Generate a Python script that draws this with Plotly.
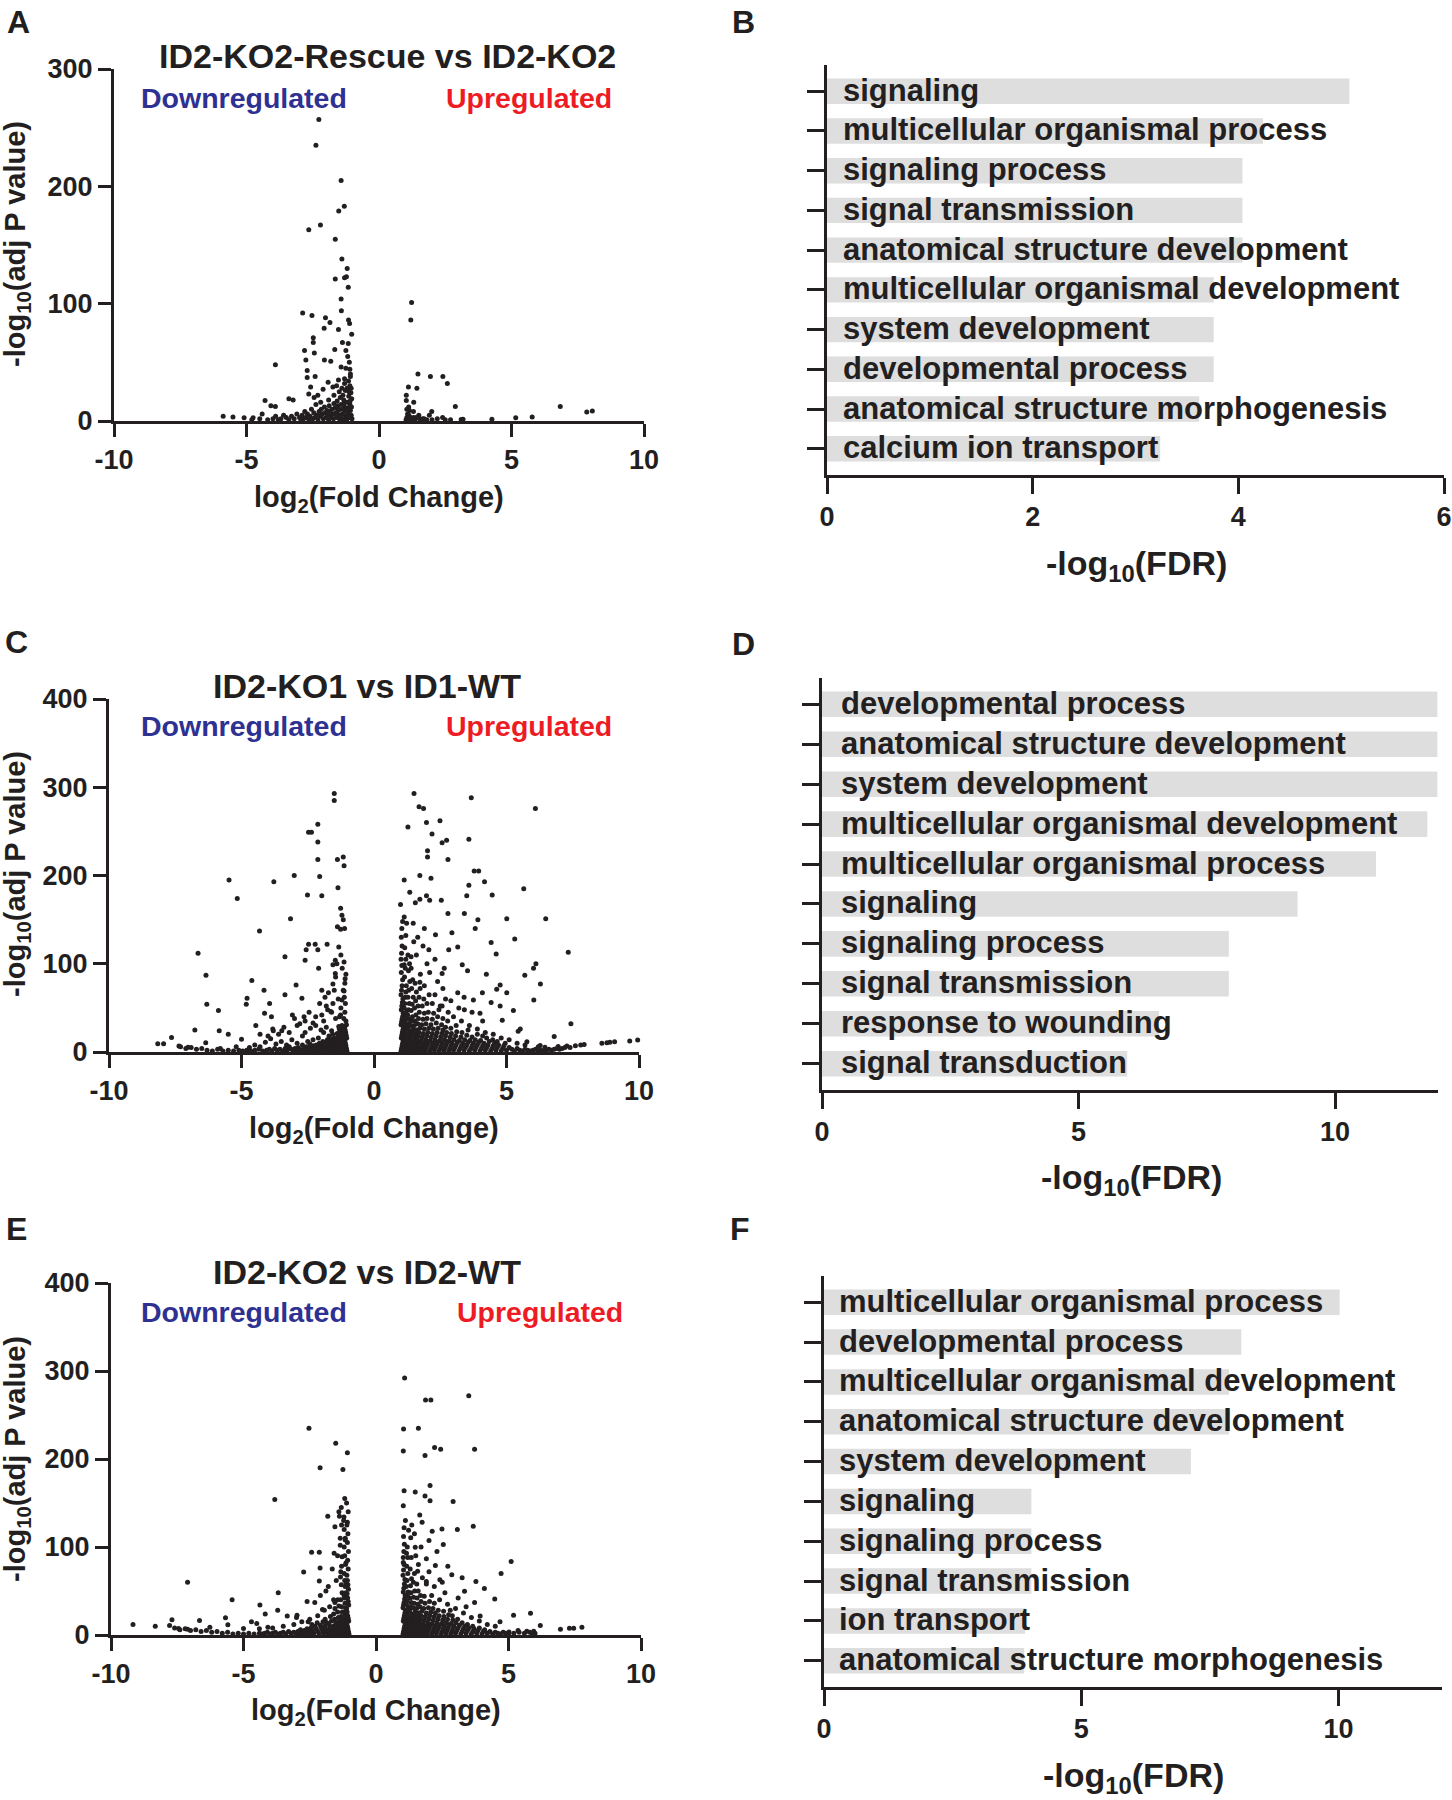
import plotly.graph_objects as go

# ---------------- DATA ----------------
# Panel A: ID2-KO2-Rescue vs ID2-KO2 (log2FC, -log10 adj P)
volcano_a_down = [
    (-2.27, 257), (-2.38, 235), (-1.43, 205), (-1.31, 183), (-1.52, 179), (-2.21, 167), (-2.65, 163),
    (-1.65, 155), (-1.40, 138), (-1.20, 130), (-1.65, 121), (-1.30, 122), (-1.23, 123), (-1.16, 114),
    (-1.43, 104), (-1.42, 94), (-2.88, 92), (-2.53, 90), (-2.02, 88), (-1.85, 84), (-1.15, 86),
    (-1.11, 83), (-2.07, 79), (-1.53, 78), (-1.03, 74), (-2.48, 71), (-2.48, 67), (-1.38, 67),
    (-1.16, 66), (-2.81, 60), (-1.67, 61), (-2.44, 58), (-1.25, 60), (-2.76, 52), (-2.06, 52),
    (-1.82, 51), (-3.91, 48), (-2.71, 43), (-1.43, 46), (-1.10, 44), (-2.71, 37), (-2.41, 38),
    (-1.92, 33), (-1.53, 35), (-1.30, 36), (-1.08, 40), (-2.58, 29), (-2.11, 27), (-1.74, 29),
    (-1.21, 28), (-2.65, 23), (-2.31, 22), (-4.30, 17.5), (-3.40, 19), (-3.24, 18), (-3.91, 12.4),
    (-4.08, 13), (-4.41, 6), (-5.88, 4), (-5.51, 3.4), (-5.09, 2.8), (-4.75, 2.8),
    (-1.02, 2), (-1.05, 5), (-1.08, 9), (-1.10, 14), (-1.03, 19), (-1.06, 24), (-1.12, 3), (-1.15, 7),
    (-1.18, 11), (-1.20, 16), (-1.14, 21), (-1.22, 1), (-1.25, 4), (-1.28, 8), (-1.30, 12), (-1.33, 18),
    (-1.27, 26), (-1.35, 2), (-1.38, 6), (-1.40, 10), (-1.43, 14), (-1.46, 20), (-1.48, 1), (-1.50, 5),
    (-1.53, 9), (-1.56, 13), (-1.58, 17), (-1.60, 3), (-1.63, 7), (-1.66, 11), (-1.70, 15), (-1.72, 2),
    (-1.75, 6), (-1.78, 10), (-1.82, 4), (-1.85, 8), (-1.88, 13), (-1.90, 1), (-1.93, 5), (-1.96, 9),
    (-2.00, 3), (-2.03, 7), (-2.06, 12), (-2.10, 2), (-2.14, 6), (-2.18, 10), (-2.22, 4), (-2.26, 8),
    (-2.30, 1), (-2.34, 5), (-2.38, 14), (-2.42, 3), (-2.46, 7), (-2.50, 2), (-2.55, 10), (-2.60, 4),
    (-2.65, 1), (-2.70, 6), (-2.75, 3), (-2.80, 8), (-2.85, 2), (-2.90, 5), (-2.95, 1), (-3.00, 3),
    (-3.10, 6), (-3.20, 2), (-3.30, 4), (-3.40, 1), (-3.50, 3), (-3.60, 5), (-3.70, 2), (-3.80, 1),
    (-3.90, 4), (-4.00, 2), (-4.20, 1), (-4.50, 2), (-4.80, 1), (-1.10, 30), (-1.15, 34), (-1.30, 32),
    (-1.50, 25), (-1.70, 22), (-1.90, 18), (-2.20, 16), (-2.45, 20), (-1.05, 28), (-1.08, 38),
    (-1.25, 45), (-1.40, 28), (-1.60, 30), (-1.12, 50), (-1.18, 55), (-1.04, 12), (-1.09, 17),
    (-1.13, 25), (-1.19, 4), (-1.24, 9), (-1.32, 15), (-1.36, 22), (-1.45, 3), (-1.55, 11), (-1.68, 6),
]
volcano_a_up = [
    (1.23, 101), (1.20, 86), (1.47, 40), (1.94, 38), (2.41, 38), (2.58, 32), (1.43, 28), (1.11, 29),
    (1.03, 22), (1.03, 17.5), (1.31, 16), (2.88, 12.4), (6.84, 12.4), (7.84, 7.6), (8.05, 8.5),
    (5.78, 3.4), (5.16, 2.8), (4.26, 1.4), (1.99, 8), (1.90, 5), (2.40, 3), (3.17, 1.4), (3.10, 1.2),
    (1.10, 6), (1.15, 9), (1.30, 3), (1.50, 2.5), (1.65, 2), (1.02, 1), (1.05, 3), (1.08, 6), (1.10, 2),
    (1.15, 4), (1.20, 1), (1.25, 2), (1.35, 1), (1.40, 3), (1.55, 1), (1.70, 2), (1.80, 1), (2.00, 1),
    (2.20, 2), (2.50, 1), (2.70, 1), (1.05, 10), (1.12, 12), (1.30, 8), (1.50, 5),
]

# Panel C: ID2-KO1 vs ID1-WT
volcano_c_down = [
    (-1.50, 293), (-1.50, 285), (-2.12, 258), (-2.47, 249), (-2.36, 249), (-2.12, 238), (-2.12, 218),
    (-2.05, 199), (-1.38, 218), (-1.16, 221), (-1.13, 211), (-3.01, 200), (-3.78, 193), (-5.47, 195),
    (-5.16, 174), (-2.51, 178), (-1.97, 177), (-1.36, 186), (-1.26, 163), (-1.21, 155), (-1.16, 150),
    (-1.38, 142), (-1.26, 139), (-1.11, 140), (-3.15, 151), (-4.32, 137), (-2.47, 122), (-2.22, 122),
    (-1.77, 122), (-1.33, 119), (-2.56, 116), (-2.12, 116), (-6.64, 112), (-3.36, 108), (-2.60, 104),
    (-1.46, 104), (-1.13, 102), (-1.55, 99), (-2.09, 95), (-6.34, 87), (-1.46, 89), (-1.09, 83),
    (-4.61, 81), (-2.94, 76), (-1.55, 77), (-4.15, 70), (-1.97, 70), (-1.72, 67), (-3.36, 65),
    (-1.13, 69), (-4.79, 61), (-2.72, 61), (-1.21, 59), (-6.31, 54), (-4.82, 54), (-3.94, 55),
    (-1.80, 52), (-5.87, 47), (-1.63, 46), (-4.13, 44), (-3.08, 42), (-3.87, 40), (-2.64, 40),
    (-1.97, 42), (-1.26, 42), (-4.46, 30), (-2.30, 33), (-6.76, 25), (-5.84, 24), (-5.50, 20),
    (-7.64, 16.4), (-8.16, 9.4), (-7.94, 9.4), (-7.36, 6.7), (-7.02, 5.5), (-6.35, 10.6), (-5.00, 14.5),
    (-3.82, 26), (-3.48, 24),
    (-1.02, 1), (-1.04, 4), (-1.06, 7), (-1.08, 10), (-1.10, 13), (-1.03, 16), (-1.05, 19), (-1.07, 22),
    (-1.09, 25), (-1.11, 28), (-1.04, 31), (-1.06, 35), (-1.12, 2), (-1.14, 5), (-1.16, 8), (-1.18, 11),
    (-1.20, 14), (-1.13, 17), (-1.15, 20), (-1.17, 23), (-1.19, 26), (-1.21, 30), (-1.14, 38),
    (-1.10, 45), (-1.08, 55), (-1.12, 62), (-1.16, 70), (-1.10, 78), (-1.06, 88), (-1.20, 95),
    (-1.24, 1), (-1.26, 4), (-1.28, 7), (-1.30, 10), (-1.32, 13), (-1.25, 16), (-1.27, 19), (-1.29, 22),
    (-1.31, 26), (-1.35, 2), (-1.38, 5), (-1.40, 8), (-1.42, 11), (-1.44, 14), (-1.37, 17), (-1.39, 21),
    (-1.33, 29), (-1.30, 40), (-1.25, 50), (-1.35, 60), (-1.47, 1), (-1.50, 4), (-1.53, 7), (-1.55, 10),
    (-1.58, 13), (-1.50, 16), (-1.56, 20), (-1.60, 2), (-1.63, 5), (-1.66, 8), (-1.69, 11), (-1.65, 15),
    (-1.72, 1), (-1.75, 4), (-1.78, 7), (-1.80, 10), (-1.76, 14), (-1.84, 2), (-1.87, 5), (-1.90, 8),
    (-1.93, 12), (-1.96, 1), (-2.00, 4), (-2.03, 7), (-2.06, 10), (-2.10, 2), (-2.14, 5), (-2.18, 8),
    (-2.22, 1), (-2.26, 4), (-2.30, 7), (-2.34, 2), (-2.38, 5), (-2.42, 9), (-2.46, 1), (-2.50, 3),
    (-2.55, 6), (-2.60, 2), (-2.65, 4), (-2.70, 8), (-2.75, 1), (-2.80, 3), (-2.86, 5), (-2.92, 2),
    (-2.98, 4), (-3.05, 1), (-3.12, 3), (-3.20, 6), (-3.28, 2), (-3.35, 4), (-3.45, 1), (-3.55, 3),
    (-3.65, 2), (-3.75, 4), (-3.85, 1), (-3.95, 3), (-4.05, 2), (-4.20, 1), (-4.35, 3), (-4.50, 2),
    (-4.65, 1), (-4.80, 2), (-4.95, 1), (-5.10, 2), (-5.30, 1), (-5.50, 2), (-5.70, 1), (-5.90, 3),
    (-6.10, 1), (-6.30, 2), (-6.50, 4), (-6.70, 3), (-6.90, 5), (-7.10, 4), (-7.30, 6),
    (-1.70, 18), (-1.90, 22), (-2.10, 16), (-2.30, 14), (-2.50, 12), (-2.70, 18), (-2.90, 10),
    (-3.10, 14), (-3.30, 8), (-3.50, 12), (-3.70, 9), (-3.90, 15), (-4.10, 11), (-4.30, 6), (-4.50, 8),
    (-4.70, 5), (-5.20, 6), (-5.80, 4), (-1.60, 24), (-1.80, 28), (-2.00, 25), (-2.20, 30), (-2.40, 27),
    (-2.60, 35), (-2.80, 32), (-3.00, 38), (-3.20, 22), (-3.40, 28), (-3.60, 20), (-3.80, 24),
    (-4.00, 18), (-4.30, 20), (-2.90, 30), (-2.60, 22), (-2.20, 40), (-1.90, 35), (-1.60, 45),
    (-1.45, 38), (-1.55, 55), (-1.75, 48), (-2.45, 45), (-2.05, 55), (-1.85, 62), (-1.50, 70),
    (-1.45, 85), (-1.40, 100), (-1.25, 110),
]
volcano_c_up = [
    (1.51, 293), (1.70, 278), (1.87, 276), (3.67, 288), (6.09, 276), (1.28, 255), (1.98, 260),
    (2.49, 262), (2.19, 247), (2.74, 240), (3.58, 241), (2.57, 237), (2.02, 228), (2.79, 218),
    (2.02, 221), (3.78, 205), (3.95, 205), (4.17, 193), (3.58, 189), (1.14, 195), (1.73, 200),
    (2.15, 197), (5.65, 185), (1.35, 181), (3.50, 177), (4.46, 178), (1.98, 177), (1.73, 173),
    (2.10, 172), (2.54, 172), (1.00, 167), (1.56, 169), (3.41, 157), (5.01, 151), (6.48, 151),
    (3.92, 150), (1.14, 153), (1.23, 146), (1.48, 146), (2.79, 157), (3.82, 140), (2.94, 135),
    (2.32, 133), (5.31, 128), (4.42, 124), (3.16, 119), (2.82, 116), (2.07, 116), (7.33, 113),
    (4.61, 111), (1.40, 108), (6.11, 100), (3.33, 99), (6.02, 95), (1.14, 99), (3.53, 92), (2.57, 89),
    (4.24, 88), (5.69, 87), (6.28, 77), (4.76, 76), (1.73, 79), (4.63, 71), (5.01, 67), (3.16, 67),
    (4.09, 67), (6.03, 59), (3.75, 59), (4.42, 56), (4.76, 52), (5.26, 47), (2.57, 52), (3.41, 48),
    (4.00, 44), (7.43, 32), (4.84, 36), (5.52, 26), (5.44, 23.5), (6.80, 17.6), (5.77, 11.7),
    (7.93, 8.6), (8.79, 10.6), (9.08, 11.7), (9.65, 12.5), (9.95, 13.7), (6.27, 7.4), (6.95, 6.3),
    (7.28, 6.7), (6.45, 5.5),
    (1.02, 1), (1.04, 4), (1.06, 7), (1.08, 10), (1.10, 13), (1.03, 16), (1.05, 19), (1.07, 22),
    (1.09, 25), (1.11, 28), (1.02, 31), (1.04, 34), (1.06, 37), (1.08, 40), (1.10, 44), (1.03, 48),
    (1.05, 52), (1.07, 56), (1.09, 60), (1.02, 65), (1.04, 70), (1.06, 75), (1.08, 82), (1.03, 90),
    (1.05, 98), (1.02, 105), (1.04, 112), (1.06, 120), (1.03, 130), (1.05, 140), (1.08, 148),
    (1.13, 2), (1.15, 5), (1.17, 8), (1.19, 11), (1.21, 14), (1.14, 17), (1.16, 20), (1.18, 23),
    (1.20, 26), (1.22, 30), (1.15, 33), (1.17, 36), (1.19, 40), (1.21, 45), (1.14, 50), (1.16, 55),
    (1.18, 62), (1.20, 68), (1.22, 75), (1.15, 85), (1.18, 95), (1.20, 105), (1.16, 118), (1.20, 132),
    (1.25, 1), (1.28, 4), (1.30, 7), (1.33, 10), (1.26, 13), (1.29, 16), (1.31, 20), (1.34, 24),
    (1.27, 28), (1.30, 32), (1.32, 37), (1.27, 42), (1.30, 48), (1.33, 55), (1.28, 62), (1.31, 70),
    (1.35, 80), (1.30, 92), (1.34, 100), (1.28, 110), (1.37, 2), (1.40, 5), (1.43, 8), (1.46, 11),
    (1.38, 14), (1.41, 18), (1.44, 22), (1.47, 26), (1.39, 30), (1.42, 35), (1.45, 40), (1.40, 47),
    (1.44, 54), (1.48, 62), (1.42, 72), (1.46, 82), (1.40, 95), (1.50, 1), (1.53, 4), (1.56, 7),
    (1.59, 10), (1.51, 13), (1.54, 17), (1.57, 21), (1.60, 25), (1.52, 30), (1.55, 35), (1.58, 42),
    (1.53, 50), (1.57, 58), (1.60, 68), (1.55, 78), (1.63, 2), (1.66, 5), (1.69, 8), (1.72, 11),
    (1.64, 14), (1.67, 18), (1.70, 22), (1.73, 27), (1.65, 32), (1.68, 38), (1.71, 45), (1.66, 52),
    (1.70, 62), (1.74, 72), (1.76, 1), (1.80, 4), (1.84, 7), (1.88, 10), (1.78, 13), (1.82, 17),
    (1.86, 21), (1.90, 26), (1.80, 31), (1.85, 37), (1.90, 44), (1.82, 52), (1.88, 60), (1.93, 2),
    (1.97, 5), (2.01, 8), (2.05, 11), (1.95, 14), (1.99, 18), (2.03, 22), (2.07, 27), (1.96, 32),
    (2.00, 38), (2.05, 45), (2.00, 55), (2.08, 65), (2.10, 1), (2.14, 4), (2.18, 7), (2.22, 10),
    (2.12, 13), (2.16, 17), (2.20, 21), (2.24, 26), (2.15, 31), (2.20, 37), (2.25, 44), (2.28, 2),
    (2.32, 5), (2.36, 8), (2.40, 11), (2.30, 14), (2.34, 18), (2.38, 22), (2.42, 27), (2.35, 33),
    (2.40, 40), (2.45, 48), (2.46, 1), (2.50, 4), (2.54, 7), (2.58, 10), (2.48, 13), (2.52, 17),
    (2.56, 21), (2.60, 25), (2.55, 31), (2.60, 38), (2.64, 2), (2.68, 5), (2.72, 8), (2.76, 11),
    (2.66, 14), (2.70, 18), (2.74, 22), (2.70, 28), (2.78, 35), (2.82, 1), (2.86, 4), (2.90, 7),
    (2.94, 10), (2.84, 13), (2.88, 17), (2.92, 21), (2.90, 27), (3.00, 2), (3.05, 5), (3.10, 8),
    (3.15, 11), (3.02, 14), (3.08, 18), (3.12, 23), (3.10, 30), (3.20, 1), (3.25, 4), (3.30, 7),
    (3.35, 10), (3.22, 13), (3.28, 17), (3.32, 22), (3.40, 2), (3.45, 5), (3.50, 8), (3.55, 11),
    (3.42, 14), (3.50, 19), (3.55, 25), (3.60, 1), (3.65, 4), (3.70, 7), (3.75, 10), (3.62, 13),
    (3.70, 17), (3.80, 2), (3.85, 5), (3.90, 8), (3.95, 11), (3.82, 14), (3.90, 20), (4.00, 1),
    (4.05, 4), (4.10, 7), (4.15, 10), (4.02, 13), (4.10, 18), (4.20, 2), (4.25, 5), (4.30, 8),
    (4.35, 12), (4.25, 16), (4.40, 1), (4.45, 4), (4.50, 7), (4.55, 10), (4.48, 14), (4.60, 2),
    (4.65, 5), (4.70, 8), (4.65, 12), (4.80, 1), (4.85, 4), (4.90, 7), (4.95, 10), (5.00, 2), (5.10, 5),
    (5.20, 3), (5.30, 1), (5.40, 4), (5.50, 2), (5.60, 1), (5.70, 3), (5.80, 2), (5.90, 1), (6.00, 2),
    (6.10, 3), (6.20, 1), (6.30, 2), (6.40, 1), (6.50, 2), (6.60, 3), (6.70, 2), (6.80, 3), (6.90, 4),
    (7.00, 3), (7.10, 4), (7.20, 5), (7.40, 5), (7.60, 7), (7.80, 8), (8.60, 10), (8.90, 11),
    (2.20, 55), (2.50, 52), (2.80, 45), (3.00, 40), (3.30, 35), (3.60, 30), (3.90, 26), (4.20, 22),
    (4.50, 20), (4.80, 16), (5.10, 14), (5.40, 10), (5.70, 8), (6.20, 6), (2.70, 60), (3.20, 50),
    (3.70, 45), (4.10, 35), (2.30, 65), (2.90, 58), (1.90, 75), (2.40, 80), (2.10, 90), (2.60, 72),
    (3.40, 62), (1.75, 88), (2.00, 100), (1.60, 110), (1.85, 120), (2.30, 105), (2.65, 95), (1.65, 130),
    (1.90, 140), (1.50, 125),
]

# Panel E: ID2-KO2 vs ID2-WT
volcano_e_down = [
    (-2.53, 235), (-1.52, 218), (-1.08, 207), (-2.11, 190), (-1.25, 188), (-3.82, 154), (-1.18, 155),
    (-1.11, 150), (-1.31, 145), (-1.82, 135), (-1.38, 135), (-1.21, 134), (-1.55, 123), (-1.08, 128),
    (-1.16, 108), (-1.35, 102), (-2.43, 94), (-2.14, 94), (-1.58, 93), (-1.28, 89), (-1.13, 82),
    (-2.11, 76), (-2.73, 71.5), (-1.33, 72), (-7.11, 60), (-2.14, 61.5), (-1.13, 58.5), (-1.89, 50),
    (-3.69, 48), (-1.21, 45.5), (-5.43, 40), (-2.31, 37), (-4.38, 34), (-1.55, 37), (-2.02, 29),
    (-4.18, 24), (-3.71, 28), (-3.35, 21.7), (-2.98, 22.5), (-5.68, 19.5), (-7.70, 17.3), (-6.66, 16.5),
    (-9.17, 12), (-8.33, 10), (-7.79, 10.8), (-6.27, 8.7), (-5.59, 11.7), (-5.00, 7.4), (-4.50, 13),
    (-4.08, 8.7), (-2.56, 15), (-7.45, 7.4), (-7.11, 6.5),
    (-1.02, 1), (-1.04, 4), (-1.06, 7), (-1.08, 10), (-1.10, 13), (-1.03, 16), (-1.05, 19), (-1.07, 22),
    (-1.09, 26), (-1.11, 30), (-1.03, 34), (-1.05, 38), (-1.07, 42), (-1.09, 47), (-1.04, 52),
    (-1.06, 57), (-1.08, 62), (-1.10, 68), (-1.05, 75), (-1.07, 85), (-1.04, 95), (-1.08, 105),
    (-1.06, 115), (-1.10, 125), (-1.05, 140), (-1.13, 2), (-1.15, 5), (-1.17, 8), (-1.19, 11),
    (-1.14, 14), (-1.16, 18), (-1.18, 22), (-1.20, 26), (-1.15, 31), (-1.17, 36), (-1.19, 42),
    (-1.14, 48), (-1.16, 55), (-1.18, 62), (-1.20, 70), (-1.15, 80), (-1.18, 90), (-1.20, 100),
    (-1.16, 110), (-1.20, 120), (-1.22, 130), (-1.24, 1), (-1.27, 4), (-1.30, 7), (-1.33, 10),
    (-1.26, 13), (-1.29, 17), (-1.32, 21), (-1.27, 26), (-1.30, 32), (-1.33, 40), (-1.28, 48),
    (-1.31, 57), (-1.34, 66), (-1.30, 78), (-1.37, 2), (-1.40, 5), (-1.43, 8), (-1.46, 11), (-1.39, 15),
    (-1.42, 20), (-1.45, 26), (-1.40, 33), (-1.44, 40), (-1.50, 1), (-1.54, 4), (-1.58, 7), (-1.62, 10),
    (-1.52, 14), (-1.56, 18), (-1.60, 24), (-1.55, 30), (-1.66, 2), (-1.70, 5), (-1.74, 8), (-1.78, 12),
    (-1.68, 16), (-1.72, 21), (-1.82, 1), (-1.86, 4), (-1.90, 7), (-1.94, 10), (-1.85, 14), (-1.92, 18),
    (-1.98, 2), (-2.02, 5), (-2.06, 8), (-2.10, 11), (-2.00, 15), (-2.15, 1), (-2.20, 4), (-2.25, 7),
    (-2.30, 10), (-2.22, 14), (-2.35, 2), (-2.40, 5), (-2.45, 8), (-2.42, 12), (-2.50, 1), (-2.55, 4),
    (-2.60, 7), (-2.65, 2), (-2.70, 5), (-2.75, 1), (-2.80, 3), (-2.85, 6), (-2.90, 2), (-2.95, 4),
    (-3.00, 1), (-3.10, 3), (-3.20, 2), (-3.30, 4), (-3.40, 1), (-3.50, 3), (-3.60, 2), (-3.70, 1),
    (-3.80, 3), (-3.90, 2), (-4.00, 1), (-4.10, 3), (-4.20, 2), (-4.30, 1), (-4.40, 2), (-4.60, 1),
    (-4.80, 2), (-5.00, 1), (-5.20, 2), (-5.40, 1), (-5.60, 3), (-5.80, 2), (-6.00, 4), (-6.20, 3),
    (-6.40, 5), (-6.60, 4), (-6.80, 6), (-7.00, 5), (-7.20, 7), (-7.40, 6), (-7.60, 8),
    (-1.60, 40), (-1.75, 32), (-1.95, 28), (-2.20, 22), (-2.50, 18), (-2.80, 15), (-3.10, 12),
    (-3.50, 10), (-3.90, 8), (-4.40, 7), (-1.80, 55), (-2.10, 45), (-2.60, 38), (-3.00, 20), (-4.70, 15),
    (-1.50, 62), (-1.65, 75), (-1.45, 90), (-1.35, 110), (-1.30, 125), (-1.40, 140),
]
volcano_e_up = [
    (1.08, 292), (3.50, 272), (1.87, 267), (2.07, 267), (1.04, 234), (1.60, 235), (2.21, 213),
    (2.44, 211), (3.72, 211), (1.03, 209), (1.85, 204), (2.04, 170), (1.06, 164), (1.48, 162.5),
    (1.85, 158), (2.04, 152.5), (2.91, 151.7), (1.03, 147), (1.65, 136.5), (1.11, 130), (1.74, 128),
    (3.67, 123.5), (2.49, 120.5), (3.07, 120), (2.12, 118), (1.23, 119), (1.31, 110.5), (2.00, 107.5),
    (2.54, 102.7), (1.48, 99.7), (1.15, 93), (1.90, 86.7), (5.10, 83.6), (1.03, 82.3), (2.24, 79),
    (2.71, 78), (1.57, 72.4), (4.72, 70), (2.86, 68.5), (2.41, 62.8), (3.25, 65), (3.77, 60.7),
    (1.90, 60.7), (4.09, 52.9), (3.34, 49.8), (4.48, 41), (3.72, 36.8), (3.93, 21.7), (5.83, 24.7),
    (5.19, 22.5), (4.68, 15), (6.20, 10.8), (6.96, 6.5), (7.30, 7.8), (7.46, 7.8), (7.77, 8.7),
    (5.36, 5.2), (5.69, 4.3), (5.95, 4.3), (5.02, 3.5),
    (1.02, 1), (1.04, 4), (1.06, 7), (1.08, 10), (1.10, 13), (1.03, 16), (1.05, 19), (1.07, 22),
    (1.09, 25), (1.11, 28), (1.02, 31), (1.04, 34), (1.06, 37), (1.08, 41), (1.10, 45), (1.03, 49),
    (1.05, 53), (1.07, 58), (1.09, 63), (1.02, 68), (1.04, 74), (1.06, 80), (1.03, 88), (1.05, 95),
    (1.07, 103), (1.04, 112), (1.06, 122), (1.13, 2), (1.15, 5), (1.17, 8), (1.19, 11), (1.21, 14),
    (1.14, 17), (1.16, 20), (1.18, 23), (1.20, 27), (1.22, 31), (1.15, 35), (1.17, 39), (1.19, 44),
    (1.21, 49), (1.14, 55), (1.17, 62), (1.20, 70), (1.16, 78), (1.20, 88), (1.18, 100), (1.25, 1),
    (1.28, 4), (1.30, 7), (1.33, 10), (1.26, 13), (1.29, 16), (1.31, 20), (1.34, 24), (1.27, 28),
    (1.30, 32), (1.33, 37), (1.28, 42), (1.32, 48), (1.30, 56), (1.34, 64), (1.29, 75), (1.33, 88),
    (1.37, 2), (1.40, 5), (1.43, 8), (1.46, 11), (1.38, 14), (1.41, 18), (1.44, 22), (1.47, 26),
    (1.40, 31), (1.44, 36), (1.42, 43), (1.46, 50), (1.41, 60), (1.45, 70), (1.50, 1), (1.53, 4),
    (1.56, 7), (1.59, 10), (1.51, 13), (1.54, 17), (1.57, 21), (1.60, 25), (1.53, 30), (1.57, 35),
    (1.55, 42), (1.59, 50), (1.54, 58), (1.63, 2), (1.66, 5), (1.69, 8), (1.72, 11), (1.64, 14),
    (1.67, 18), (1.70, 22), (1.73, 27), (1.66, 32), (1.70, 38), (1.68, 45), (1.76, 1), (1.80, 4),
    (1.84, 7), (1.88, 10), (1.78, 13), (1.82, 17), (1.86, 21), (1.90, 25), (1.80, 30), (1.85, 36),
    (1.82, 44), (1.93, 2), (1.97, 5), (2.01, 8), (2.05, 11), (1.95, 14), (1.99, 18), (2.03, 22),
    (2.07, 26), (1.98, 31), (2.02, 38), (2.10, 1), (2.14, 4), (2.18, 7), (2.22, 10), (2.12, 13),
    (2.16, 17), (2.20, 21), (2.24, 25), (2.15, 30), (2.20, 36), (2.28, 2), (2.32, 5), (2.36, 8),
    (2.40, 11), (2.30, 14), (2.34, 18), (2.38, 22), (2.35, 28), (2.46, 1), (2.50, 4), (2.54, 7),
    (2.58, 10), (2.48, 13), (2.52, 17), (2.56, 21), (2.55, 27), (2.64, 2), (2.68, 5), (2.72, 8),
    (2.76, 11), (2.66, 14), (2.70, 18), (2.74, 23), (2.82, 1), (2.86, 4), (2.90, 7), (2.94, 10),
    (2.84, 13), (2.90, 17), (2.88, 22), (3.00, 2), (3.05, 5), (3.10, 8), (3.15, 11), (3.02, 14),
    (3.08, 18), (3.20, 1), (3.25, 4), (3.30, 7), (3.35, 10), (3.25, 14), (3.40, 2), (3.45, 5),
    (3.50, 8), (3.45, 12), (3.60, 1), (3.65, 4), (3.70, 7), (3.65, 10), (3.80, 2), (3.85, 5), (3.90, 8),
    (4.00, 1), (4.05, 4), (4.10, 6), (4.20, 2), (4.30, 4), (4.40, 1), (4.50, 3), (4.60, 2), (4.70, 1),
    (4.80, 3), (4.90, 2), (5.00, 1), (5.20, 2), (5.40, 3), (5.60, 2), (5.80, 3), (5.90, 1), (6.00, 2),
    (2.10, 45), (2.40, 40), (2.70, 35), (3.00, 30), (3.30, 25), (3.60, 20), (3.90, 16), (4.20, 12),
    (4.50, 10), (2.20, 55), (2.60, 48), (3.10, 42), (1.90, 58), (2.50, 60), (1.75, 65), (2.00, 72),
    (1.60, 80), (1.50, 90), (1.70, 100), (1.45, 115), (1.35, 125), (2.30, 95), (3.40, 32), (2.80, 28),
]

# GO enrichment bar panels
b_terms = ["signaling", "multicellular organismal process", "signaling process", "signal transmission",
           "anatomical structure development", "multicellular organismal development", "system development",
           "developmental process", "anatomical structure morphogenesis", "calcium ion transport"]
b_fdr = [5.08, 4.24, 4.04, 4.04, 4.04, 3.76, 3.76, 3.76, 3.62, 3.24]

d_terms = ["developmental process", "anatomical structure development", "system development",
           "multicellular organismal development", "multicellular organismal process", "signaling",
           "signaling process", "signal transmission", "response to wounding", "signal transduction"]
d_fdr = [12.0, 12.0, 12.0, 11.8, 10.8, 9.27, 7.93, 7.93, 6.57, 5.95]

f_terms = ["multicellular organismal process", "developmental process", "multicellular organismal development",
           "anatomical structure development", "system development", "signaling", "signaling process",
           "signal transmission", "ion transport", "anatomical structure morphogenesis"]
f_fdr = [10.02, 8.11, 7.87, 7.87, 7.13, 4.03, 4.03, 4.03, 3.91, 3.89]

volcano_titles = ["ID2-KO2-Rescue vs ID2-KO2", "ID2-KO1 vs ID1-WT", "ID2-KO2 vs ID2-WT"]
volcano_yticks = [[0, 100, 200, 300], [0, 100, 200, 300, 400], [0, 100, 200, 300, 400]]
volcano_xticks = [-10, -5, 0, 5, 10]
volcano_xticktext = ["-10", "-5", "0", "5", "10"]
panel_letters = ["A", "B", "C", "D", "E", "F"]

# ---------------- LAYOUT ----------------
W, H = 1452, 1800
FONT = "Liberation Sans, Arial, Helvetica, sans-serif"
INK = "#231f20"
BLUE = "#2e3192"
RED = "#ed1c24"
BAR = "#dedede"


def fx(p):
    return p / W


def fy(p):
    return 1 - p / H


fig = go.Figure()
annotations = []

volcano_specs = [
    dict(i=1, down=volcano_a_down, up=volcano_a_up, xd=(114, 644), yd=(69, 421), ymax=300,
         title=(388, 56), dn=(244, 98), upl=(529, 98), yt=(17, 244), xt=(379, 499)),
    dict(i=3, down=volcano_c_down, up=volcano_c_up, xd=(109, 639), yd=(699, 1052), ymax=400,
         title=(367, 686), dn=(244, 726), upl=(529, 726), yt=(17, 874), xt=(374, 1130)),
    dict(i=5, down=volcano_e_down, up=volcano_e_up, xd=(111, 641), yd=(1283, 1635), ymax=400,
         title=(367, 1272), dn=(244, 1312), upl=(540, 1312), yt=(17, 1459), xt=(376, 1712)),
]

axis_common = dict(showline=True, linewidth=3, linecolor=INK, ticks="outside", tickwidth=3,
                   tickcolor=INK, showgrid=False, zeroline=False, automargin=False,
                   ticklabeloverflow="allow",
                   tickfont=dict(family=FONT, size=27, color=INK, weight="bold"))

for k, s in enumerate(volcano_specs):
    i = s["i"]
    pts = s["down"] + s["up"]
    fig.add_trace(go.Scatter(
        x=[p[0] for p in pts], y=[p[1] for p in pts], mode="markers",
        marker=dict(size=5, color=INK, line=dict(width=0)),
        xaxis=f"x{i}", yaxis=f"y{i}", cliponaxis=False, hoverinfo="skip", showlegend=False))
    fig.update_layout(**{
        f"xaxis{i}": dict(domain=[fx(s["xd"][0]), fx(s["xd"][1])], range=[-10, 10],
                          tickvals=volcano_xticks, ticktext=volcano_xticktext, ticklen=13,
                          anchor=f"y{i}", **axis_common),
        f"yaxis{i}": dict(domain=[fy(s["yd"][1]), fy(s["yd"][0])], range=[0, s["ymax"]],
                          tickvals=volcano_yticks[k], ticklen=13, anchor=f"x{i}", **axis_common),
    })
    annotations += [
        dict(text=volcano_titles[k], x=fx(s["title"][0]), y=fy(s["title"][1]), xref="paper", yref="paper",
             showarrow=False, xanchor="center", yanchor="middle",
             font=dict(family=FONT, size=34, color=INK, weight="bold")),
        dict(text="Downregulated", x=fx(s["dn"][0]), y=fy(s["dn"][1]), xref="paper", yref="paper",
             showarrow=False, xanchor="center", yanchor="middle",
             font=dict(family=FONT, size=28.5, color=BLUE, weight="bold")),
        dict(text="Upregulated", x=fx(s["upl"][0]), y=fy(s["upl"][1]), xref="paper", yref="paper",
             showarrow=False, xanchor="center", yanchor="middle",
             font=dict(family=FONT, size=28.5, color=RED, weight="bold")),
        dict(text="-log<sub>10</sub>(adj P value)", x=fx(s["yt"][0]), y=fy(s["yt"][1]), xref="paper",
             yref="paper", showarrow=False, textangle=-90, xanchor="center", yanchor="middle",
             font=dict(family=FONT, size=29, color=INK, weight="bold")),
        dict(text="log<sub>2</sub>(Fold Change)", x=fx(s["xt"][0]), y=fy(s["xt"][1]), xref="paper",
             yref="paper", showarrow=False, xanchor="center", yanchor="middle",
             font=dict(family=FONT, size=29, color=INK, weight="bold")),
    ]

bar_specs = [
    dict(i=2, terms=b_terms, vals=b_fdr, xd=(827, 1444), yd=(65, 475), xmax=6, xt=[0, 2, 4, 6],
         shift=14, title=(1136, 565)),
    dict(i=4, terms=d_terms, vals=d_fdr, xd=(822, 1437.6), yd=(678, 1090), xmax=12, xt=[0, 5, 10],
         shift=17, title=(1131, 1179)),
    dict(i=6, terms=f_terms, vals=f_fdr, xd=(824, 1441.5), yd=(1276, 1687), xmax=12, xt=[0, 5, 10],
         shift=13, title=(1133, 1777)),
]

for s in bar_specs:
    i = s["i"]
    idx = list(range(len(s["terms"])))
    fig.add_trace(go.Bar(
        x=s["vals"], y=idx, orientation="h", width=0.64, marker=dict(color=BAR, line=dict(width=0)),
        xaxis=f"x{i}", yaxis=f"y{i}", hoverinfo="skip", showlegend=False, cliponaxis=True))
    fig.update_layout(**{
        f"xaxis{i}": dict(domain=[fx(s["xd"][0]), fx(s["xd"][1])], range=[0, s["xmax"]],
                          tickvals=s["xt"], ticklen=16, anchor=f"y{i}", **axis_common),
        f"yaxis{i}": dict(domain=[fy(s["yd"][1]), fy(s["yd"][0])], range=[len(idx) - 1 + 0.66, -0.66],
                          tickvals=idx, ticklen=17, showticklabels=False, anchor=f"x{i}", **axis_common),
    })
    for j, term in enumerate(s["terms"]):
        annotations.append(dict(
            text=term, x=0, y=j, xref=f"x{i}", yref=f"y{i}", xanchor="left", yanchor="middle",
            xshift=s["shift"], yshift=1, showarrow=False,
            font=dict(family=FONT, size=31, color=INK, weight="bold")))
    annotations.append(dict(
        text="-log<sub>10</sub>(FDR)", x=fx(s["title"][0]), y=fy(s["title"][1]), xref="paper", yref="paper",
        showarrow=False, xanchor="center", yanchor="middle",
        font=dict(family=FONT, size=34, color=INK, weight="bold")))

letter_pos = [(18, 22), (744, 22), (16, 642), (743, 644), (16, 1229), (740, 1229)]
for L, (px, py) in zip(panel_letters, letter_pos):
    annotations.append(dict(text=L, x=fx(px), y=fy(py), xref="paper", yref="paper", showarrow=False,
                            xanchor="center", yanchor="middle",
                            font=dict(family=FONT, size=32, color=INK, weight="bold")))

fig.update_layout(
    template="none",
    width=W, height=H, margin=dict(l=0, r=0, t=0, b=0, autoexpand=False),
    paper_bgcolor="white", plot_bgcolor="white", showlegend=False,
    font=dict(family=FONT, color=INK), annotations=annotations, bargap=0.36,
)

fig.write_html(
    "out.html",
    config={"displayModeBar": False},
    post_script="document.body.style.margin='0';document.body.style.overflow='hidden';",
)
